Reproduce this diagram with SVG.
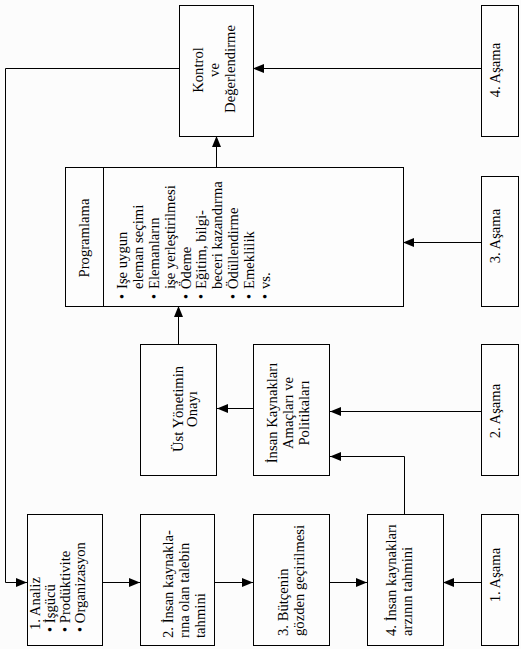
<svg xmlns="http://www.w3.org/2000/svg" width="521" height="649" viewBox="0 0 521 649">
<style>
.box{fill:#fdfdfd;stroke:#000;stroke-width:1;shape-rendering:crispEdges}
.ln{fill:none;stroke:#000;stroke-width:1;shape-rendering:crispEdges}
.arr{fill:none;stroke:#000;stroke-width:1;marker-end:url(#ah)}
text{font-family:"Liberation Serif","Times New Roman",serif;font-size:14.67px;fill:#000}
.m{text-anchor:middle}
</style>
<defs>
<marker id="ah" markerUnits="userSpaceOnUse" markerWidth="12" markerHeight="10" refX="11" refY="4.5" orient="auto">
<path d="M0,0 L11,4.5 L0,9 z" fill="#000"/>
</marker>
</defs>
<rect width="521" height="649" fill="#fcfcfc"/>

<g id="connectors">
<path class="arr" d="M481,68.5 L253,68.5"/>
<path class="arr" d="M179,68.5 L5.5,68.5 L5.5,582.5 L27,582.5"/>
<path class="arr" d="M216.5,167 L216.5,136"/>
<path class="arr" d="M481,242.5 L403,242.5"/>
<path class="arr" d="M178.5,344 L178.5,306"/>
<path class="arr" d="M254,408.5 L217,408.5"/>
<path class="arr" d="M481,411.5 L330,411.5"/>
<path class="arr" d="M404.5,514 L404.5,456.5 L330,456.5"/>
<path class="arr" d="M102,582.5 L140,582.5"/>
<path class="arr" d="M214,582.5 L253,582.5"/>
<path class="arr" d="M329,582.5 L367,582.5"/>
<path class="arr" d="M481,582.5 L443,582.5"/>
</g>

<g id="kontrol">
<rect class="box" x="179.5" y="5.5" width="74" height="131"/>
<text transform="translate(203,70) rotate(-90)" class="m">Kontrol</text>
<text transform="translate(219,70) rotate(-90)" class="m">ve</text>
<text transform="translate(235,69) rotate(-90)" class="m">Değerlendirme</text>
</g>

<g id="asama4">
<rect class="box" x="481.5" y="5.5" width="37" height="131"/>
<text transform="translate(500,70) rotate(-90)" class="m">4. Aşama</text>
</g>

<g id="programlama">
<rect class="box" x="65.5" y="167.5" width="338" height="139"/>
<line class="ln" x1="103.5" y1="167.5" x2="103.5" y2="306.5"/>
<text transform="translate(89,238) rotate(-90)" class="m">Programlama</text>
<text transform="translate(127,299) rotate(-90)">•</text>
<text transform="translate(127,289) rotate(-90)">Işe uygun</text>
<text transform="translate(143,289) rotate(-90)">eleman seçimi</text>
<text transform="translate(159,299) rotate(-90)">•</text>
<text transform="translate(159,289) rotate(-90)">Elemanların</text>
<text transform="translate(175,289) rotate(-90)">işe yerleştirilmesi</text>
<text transform="translate(191,299) rotate(-90)">•</text>
<text transform="translate(191,289) rotate(-90)">Ödeme</text>
<text transform="translate(206,299) rotate(-90)">•</text>
<text transform="translate(206,289) rotate(-90)">Eğitim, bilgi-</text>
<text transform="translate(222,289) rotate(-90)">beceri kazandırma</text>
<text transform="translate(238,299) rotate(-90)">•</text>
<text transform="translate(238,289) rotate(-90)">Ödüllendirme</text>
<text transform="translate(254,299) rotate(-90)">•</text>
<text transform="translate(254,289) rotate(-90)">Emeklilik</text>
<text transform="translate(270,299) rotate(-90)">•</text>
<text transform="translate(270,289) rotate(-90)">vs.</text>
</g>

<g id="asama3">
<rect class="box" x="481.5" y="176.5" width="37" height="130"/>
<text transform="translate(500,236) rotate(-90)" class="m">3. Aşama</text>
</g>

<g id="ust-yonetim">
<rect class="box" x="140.5" y="344.5" width="76" height="131"/>
<text transform="translate(183,409) rotate(-90)" class="m">Üst Yönetimin</text>
<text transform="translate(197,409) rotate(-90)" class="m">Onayı</text>
</g>

<g id="ik-amaclar">
<rect class="box" x="253.5" y="344.5" width="76" height="131"/>
<text transform="translate(277,413) rotate(-90)" class="m">İnsan Kaynakları</text>
<text transform="translate(293,413) rotate(-90)" class="m">Amaçları ve</text>
<text transform="translate(309,413) rotate(-90)" class="m">Politikaları</text>
</g>

<g id="asama2">
<rect class="box" x="481.5" y="344.5" width="37" height="131"/>
<text transform="translate(500,411) rotate(-90)" class="m">2. Aşama</text>
</g>

<g id="analiz">
<rect class="box" x="27.5" y="514.5" width="75" height="131"/>
<text transform="translate(40,630) rotate(-90)">1. Analiz</text>
<text transform="translate(55,632) rotate(-90)">• İşgücü</text>
<text transform="translate(70,632) rotate(-90)">• Prodüktivite</text>
<text transform="translate(85,632) rotate(-90)">• Organizasyon</text>
</g>

<g id="talep">
<rect class="box" x="140.5" y="514.5" width="74" height="131"/>
<text transform="translate(173,638) rotate(-90)">2. İnsan kaynakla-</text>
<text transform="translate(189,638) rotate(-90)">rına olan talebin</text>
<text transform="translate(205,638) rotate(-90)">tahmini</text>
</g>

<g id="butce">
<rect class="box" x="253.5" y="514.5" width="76" height="131"/>
<text transform="translate(288,636) rotate(-90)">3. Bütçenin</text>
<text transform="translate(304,636) rotate(-90)">gözden geçirilmesi</text>
</g>

<g id="arz">
<rect class="box" x="367.5" y="514.5" width="76" height="131"/>
<text transform="translate(396,636) rotate(-90)">4. İnsan kaynakları</text>
<text transform="translate(412,636) rotate(-90)">arzının tahmini</text>
</g>

<g id="asama1">
<rect class="box" x="481.5" y="514.5" width="37" height="131"/>
<text transform="translate(500,575) rotate(-90)" class="m">1. Aşama</text>
</g>
</svg>
